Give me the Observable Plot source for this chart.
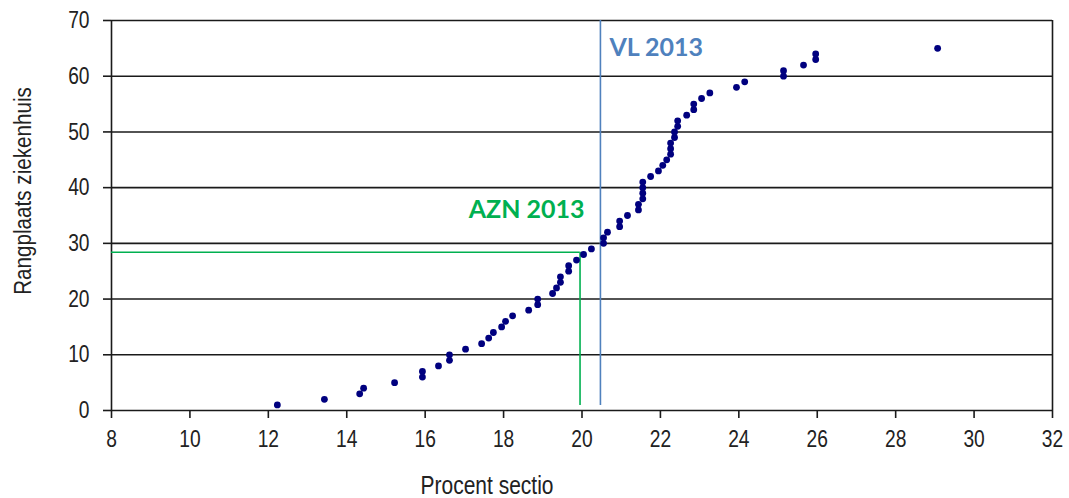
<!DOCTYPE html>
<html>
<head>
<meta charset="utf-8">
<script src="https://cdn.jsdelivr.net/npm/d3@7"></script>
<script src="https://cdn.jsdelivr.net/npm/@observablehq/plot@0.6"></script>
<style>
  html, body { margin: 0; padding: 0; background: #fff; }
  #chart svg { display: block; }
</style>
</head>
<body>
<div id="chart"></div>
<script>
// Rank of each hospital (y) and its caesarean percentage (x)
const ranks = Array.from({length: 65}, (_, i) => i + 1);
const sectio = [
  12.23, 13.43, 14.33, 14.43, 15.22, 15.93, 15.93, 16.34, 16.62, 16.62,
  17.03, 17.44, 17.62, 17.74, 17.95, 18.05, 18.23, 18.64, 18.87, 18.87,
  19.25, 19.35, 19.45, 19.45, 19.66, 19.66, 19.86, 20.04, 20.24, 20.55,
  20.55, 20.65, 20.96, 20.96, 21.16, 21.44, 21.44, 21.55, 21.55, 21.55,
  21.55, 21.75, 21.95, 22.06, 22.16, 22.26, 22.26, 22.26, 22.36, 22.36,
  22.44, 22.44, 22.67, 22.85, 22.85, 23.05, 23.26, 23.94, 24.15, 25.14,
  25.14, 25.65, 25.96, 25.96, 29.07
];
const xTicks = [8, 10, 12, 14, 16, 18, 20, 22, 24, 26, 28, 30, 32];
const yTicks = [0, 10, 20, 30, 40, 50, 60, 70];

// Reference markers
const aznRef = [{x: 19.95, y: 28.4, label: "AZN 2013", lx: 17.11, ly: 35.9}];
const vlRef = [{x: 20.47, y: 70, label: "VL 2013", lx: 20.70, ly: 65.0}];

const xLabel = "Procent sectio";
const yLabel = "Rangplaats ziekenhuis";

const points = ranks.map((r, i) => ({rank: r, pct: sectio[i]}));

const sans = "'Liberation Sans', Arial, sans-serif";
const axisColor = "#1a1a1a";
const squeeze = 0.8;

const chart = Plot.plot({
  width: 1069,
  height: 498,
  marginLeft: 111,
  marginRight: 17,
  marginTop: 20,
  marginBottom: 88,
  x: {domain: [8, 32]},
  y: {domain: [0, 70]},
  style: {background: "#fff", color: "#222", fontFamily: sans},
  marks: [
    Plot.ruleY(yTicks, {stroke: axisColor, strokeWidth: 1.6}),
    Plot.ruleX([xTicks[0], xTicks[xTicks.length - 1]], {stroke: axisColor, strokeWidth: 1.6}),
    Plot.axisY(yTicks, {tickSize: 8, tickPadding: 14, fontSize: 24, label: null, stroke: axisColor, strokeWidth: 1.6, fill: "#222"}),
    Plot.axisX(xTicks, {tickSize: 8, tickPadding: 11, fontSize: 24, label: null, stroke: axisColor, strokeWidth: 1.6, fill: "#222"}),
    Plot.ruleY(aznRef, {y: "y", x1: 8, x2: "x", stroke: "#00b050", strokeWidth: 1.6}),
    Plot.ruleX(aznRef, {x: "x", y1: 0.9, y2: "y", stroke: "#00b050", strokeWidth: 1.6}),
    Plot.ruleX(vlRef, {x: "x", y1: 0.9, y2: "y", stroke: "#4f81bd", strokeWidth: 1.6}),
    Plot.text(aznRef, {x: "lx", y: "ly", text: "label", textAnchor: "start", lineAnchor: "middle", fill: "#00b050", fontSize: 25, fontWeight: "bold", fontFamily: "Lato, sans-serif"}),
    Plot.text(vlRef, {x: "lx", y: "ly", text: "label", textAnchor: "start", lineAnchor: "middle", fill: "#4f81bd", fontSize: 25, fontWeight: "bold", fontFamily: "Lato, sans-serif"}),
    Plot.dot(points, {x: "pct", y: "rank", symbol: "circle", r: 3.4, fill: "#00007f", stroke: "none"})
  ]
});

const svg = d3.select(chart);
// condense tick labels to mimic a narrow typeface
svg.selectAll("g[aria-label='y-axis tick label'] text, g[aria-label='x-axis tick label'] text")
  .each(function() {
    const t = this.getAttribute("transform") || "";
    this.setAttribute("transform", t + ` scale(${squeeze},1)`);
  });

svg.append("text")
  .attr("transform", `translate(487,494) scale(0.84,1)`)
  .attr("text-anchor", "middle")
  .attr("font-family", sans).attr("font-size", 25).attr("fill", "#222")
  .text(xLabel);
svg.append("text")
  .attr("transform", `translate(31,191) rotate(-90) scale(0.86,1)`)
  .attr("text-anchor", "middle")
  .attr("font-family", sans).attr("font-size", 24).attr("fill", "#222")
  .text(yLabel);

document.getElementById("chart").appendChild(chart);
</script>
</body>
</html>
